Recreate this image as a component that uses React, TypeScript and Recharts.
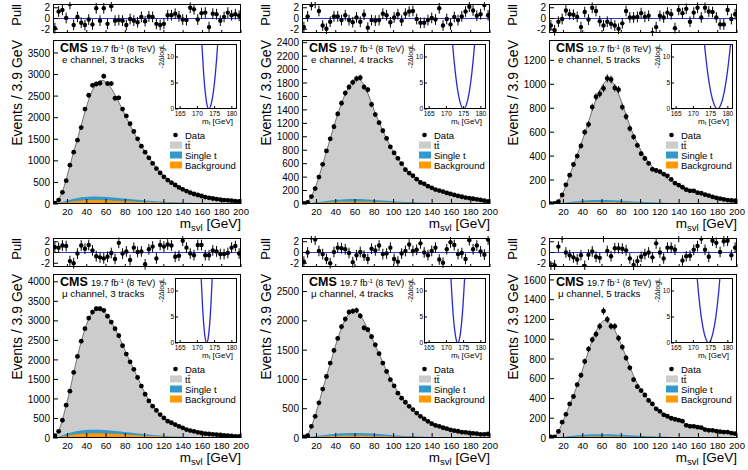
import React from 'react';
import { ComposedChart, LineChart, Line, Area, Scatter, ErrorBar, XAxis, YAxis, ReferenceLine } from 'recharts';

const FONT = '"Liberation Sans", Arial, Helvetica, sans-serif';

// 50 bins of 3.9 GeV between 5 and 200
const binCenters = [6.95, 10.85, 14.75, 18.65, 22.55, 26.45, 30.35, 34.25, 38.15, 42.05, 45.95, 49.85, 53.75, 57.65, 61.55, 65.45, 69.35, 73.25, 77.15, 81.05, 84.95, 88.85, 92.75, 96.65, 100.55, 104.45, 108.35, 112.25, 116.15, 120.05, 123.95, 127.85, 131.75, 135.65, 139.55, 143.45, 147.35, 151.25, 155.15, 159.05, 162.95, 166.85, 170.75, 174.65, 178.55, 182.45, 186.35, 190.25, 194.15, 198.05];
const xTicks = [20, 40, 60, 80, 100, 120, 140, 160, 180, 200];
const pullTicks = [-2, 0, 2];
const mtTicks = [165, 170, 175, 180];
const nllTicks = [0, 5, 10];
const nllCurve = [15.1, 12.5, 7.0, 3.1, 0.8, 0, 0.8, 3.1, 7.0, 12.5, 15.1];

// e channel, 3 tracks
const data1 = [20, 90, 270, 540, 900, 1200, 1480, 1770, 2200, 2520, 2750, 2780, 2800, 2960, 2790, 2790, 2450, 2460, 2200, 2040, 1860, 1680, 1510, 1340, 1200, 1070, 940, 820, 720, 630, 555, 495, 440, 385, 340, 300, 262, 232, 208, 185, 160, 142, 127, 113, 102, 92, 84, 76, 68, 62];
const mc1 = [25, 100, 280, 560, 890, 1210, 1510, 1820, 2140, 2420, 2640, 2790, 2860, 2860, 2800, 2680, 2530, 2360, 2180, 2000, 1830, 1660, 1500, 1350, 1210, 1080, 955, 845, 745, 655, 578, 512, 455, 405, 360, 320, 285, 255, 228, 204, 182, 163, 146, 131, 118, 106, 95, 85, 76, 68];
const st1 = [5, 20, 45, 75, 100, 122, 140, 155, 165, 170, 172, 172, 170, 166, 160, 153, 146, 138, 130, 122, 114, 106, 98, 90, 83, 76, 70, 64, 58, 53, 48, 44, 40, 36, 33, 30, 27, 25, 23, 21, 19, 17, 16, 15, 14, 13, 12, 11, 10, 10];
const bkg1 = [3, 12, 27, 42, 55, 66, 75, 82, 87, 90, 91, 91, 90, 88, 85, 82, 78, 74, 70, 66, 62, 58, 54, 50, 47, 44, 41, 38, 35, 33, 31, 29, 27, 25, 23, 21, 20, 19, 18, 17, 16, 15, 14, 13, 12, 11, 10, 9, 8, 8];
const pull1 = [-1.8, 1.3, 1.6, 0.1, 2.7, -1.2, 0.3, -0.8, -1.2, -0.2, -1.1, 1.9, -0.4, 1.9, -1.0, 2.3, -0.4, -0.3, -0.4, -1.2, -0.1, -0.4, -0.7, 0.3, -0.5, 0.4, 0.3, -1.0, -1.2, -1.0, 0.6, 0.6, 0.9, 0.4, -0.2, -0.3, 2.0, 1.7, -0.2, 1.0, 1.1, -1.6, 0.9, 0.8, -0.4, 0.3, 1.1, 0.6, 0.8, 0.5];
const yTicks1 = [0, 500, 1000, 1500, 2000, 2500, 3000, 3500];
const mt1 = [171.1, 171.3, 171.8, 172.3, 172.8, 173.3, 173.95, 174.6, 175.25, 175.9, 176.15];

// e channel, 4 tracks
const data2 = [10, 25, 110, 230, 400, 590, 790, 970, 1150, 1340, 1500, 1650, 1740, 1810, 1865, 1880, 1740, 1700, 1480, 1330, 1210, 1090, 975, 850, 760, 680, 600, 510, 460, 420, 370, 320, 300, 265, 240, 215, 200, 185, 165, 150, 135, 120, 108, 95, 88, 78, 70, 60, 50, 40];
const mc2 = [12, 30, 110, 240, 400, 590, 780, 970, 1160, 1340, 1500, 1640, 1750, 1830, 1870, 1850, 1770, 1650, 1500, 1350, 1215, 1090, 970, 860, 765, 680, 600, 530, 470, 420, 375, 335, 300, 268, 240, 215, 195, 177, 160, 146, 133, 121, 110, 100, 90, 80, 71, 62, 54, 46];
const st2 = [2, 6, 14, 22, 30, 38, 46, 53, 59, 64, 68, 71, 73, 74, 74, 73, 71, 68, 64, 60, 56, 52, 48, 44, 40, 37, 34, 31, 28, 25, 23, 21, 19, 17, 16, 15, 14, 13, 12, 11, 10, 9, 9, 8, 8, 7, 7, 6, 6, 6];
const bkg2 = [1, 4, 9, 14, 19, 23, 27, 30, 33, 35, 37, 38, 39, 39, 39, 38, 37, 36, 34, 32, 30, 28, 26, 24, 22, 21, 20, 19, 18, 17, 16, 15, 14, 13, 12, 12, 11, 11, 10, 10, 9, 9, 8, 8, 8, 7, 7, 7, 6, 6];
const pull2 = [-1.6, 0.4, 2.5, 2.9, 1.4, -1.3, -1.9, -0.6, 0.4, 0.4, -0.3, 0.6, -0.3, -0.7, 0.2, -0.6, 0.7, -1.7, -0.3, -0.4, -0.3, 0.9, 0.6, -0.7, 0.2, 0.8, -0.4, 0.9, 1.3, 1.4, -0.1, -0.8, -0.8, -0.3, 0.1, -0.2, 1.9, -1.3, -0.1, -1.1, 0.3, -0.3, 0.4, 1.3, 2.2, 1.5, 0.5, 0.8, 2.5, 0.6];
const yTicks2 = [0, 200, 400, 600, 800, 1000, 1200, 1400, 1600, 1800, 2000, 2200, 2400];
const mt2 = [171.5, 171.8, 172.6, 173.4, 174.2, 175.0, 175.8, 176.6, 177.4, 178.2, 178.5];

// e channel, 5 tracks
const data3 = [3, 5, 20, 75, 160, 240, 330, 400, 485, 600, 665, 810, 895, 920, 965, 1050, 1040, 970, 955, 810, 730, 630, 560, 490, 420, 380, 340, 290, 280, 270, 250, 235, 205, 175, 158, 140, 120, 110, 110, 95, 90, 78, 70, 60, 52, 45, 38, 33, 30, 28];
const mc3 = [3, 6, 22, 75, 155, 240, 325, 410, 500, 590, 685, 785, 875, 950, 1005, 1040, 1035, 990, 920, 835, 745, 655, 575, 505, 445, 393, 348, 312, 282, 257, 234, 212, 192, 174, 158, 144, 131, 119, 108, 98, 89, 80, 72, 64, 57, 50, 44, 38, 34, 30];
const st3 = [1, 2, 5, 9, 13, 17, 21, 24, 27, 30, 32, 33, 34, 34, 34, 33, 32, 31, 29, 27, 25, 23, 21, 19, 18, 17, 15, 14, 13, 12, 11, 10, 9, 9, 8, 8, 7, 7, 6, 6, 6, 5, 5, 5, 4, 4, 4, 4, 3, 3];
const bkg3 = [0, 1, 3, 5, 7, 9, 11, 12, 14, 15, 16, 17, 17, 17, 17, 17, 16, 16, 15, 14, 13, 12, 11, 10, 10, 9, 9, 8, 8, 7, 7, 7, 6, 6, 6, 5, 5, 5, 5, 4, 4, 4, 4, 4, 3, 3, 3, 3, 3, 3];
const pull3 = [-1.3, -2.2, -0.6, -0.1, 1.5, 0.8, 0.7, 0.3, -1.6, 1.2, -0.2, 2.0, 1.4, -0.5, -1.3, -0.6, -1.0, -1.3, -1.9, -0.9, 1.4, 0.2, 0.2, 0.3, 1.0, 0.3, 0.5, -2.7, -1.6, 0.5, 0.2, 1.1, 0.8, -1.8, 1.6, 1.0, 1.8, -0.6, 1.1, 2.0, 0.2, 2.0, 1.3, 1.2, 0.2, -1.1, -1.1, 1.6, -0.1, 0.8];
const yTicks3 = [0, 200, 400, 600, 800, 1000, 1200];
const mt3 = [172.8, 173.2, 174.15, 175.1, 176.05, 177.0, 177.95, 178.9, 179.85, 180.8, 181.2];

// mu channel, 3 tracks
const data4 = [60, 170, 455, 840, 1200, 1680, 2090, 2480, 2800, 3070, 3225, 3310, 3310, 3270, 3120, 2970, 2800, 2620, 2365, 2150, 1950, 1760, 1550, 1330, 1120, 950, 815, 705, 600, 515, 430, 390, 345, 300, 260, 215, 190, 170, 145, 130, 112, 103, 95, 86, 77, 69, 60, 52, 43, 43];
const mc4 = [50, 170, 450, 840, 1220, 1670, 2090, 2470, 2800, 3060, 3230, 3310, 3320, 3260, 3130, 2970, 2800, 2610, 2390, 2170, 1960, 1760, 1550, 1340, 1140, 965, 820, 700, 600, 512, 442, 388, 342, 300, 262, 226, 197, 172, 150, 132, 117, 105, 95, 86, 78, 70, 62, 54, 47, 42];
const st4 = [10, 35, 70, 105, 135, 160, 180, 195, 205, 210, 212, 212, 210, 205, 198, 190, 181, 171, 161, 150, 139, 128, 117, 107, 97, 88, 80, 72, 65, 58, 52, 46, 41, 37, 33, 30, 27, 25, 23, 21, 19, 17, 16, 15, 14, 13, 12, 11, 10, 10];
const bkg4 = [6, 20, 40, 60, 77, 91, 102, 111, 117, 121, 123, 123, 122, 119, 115, 111, 106, 100, 94, 88, 82, 76, 70, 64, 59, 54, 50, 46, 42, 38, 35, 32, 29, 27, 25, 23, 21, 19, 18, 17, 16, 15, 14, 13, 12, 11, 10, 9, 9, 8];
const pull4 = [1.0, 0.9, 1.3, 1.2, -1.6, -2.0, -0.2, 1.3, 0.7, 1.4, 0.4, -0.7, -0.9, -1.1, -0.8, -0.1, -1.2, 1.8, -0.2, 0.2, -1.4, 0.9, 0.1, 0.2, -2.2, 0.6, 1.1, -1.1, 1.4, 1.1, 1.5, 1.3, -0.8, -0.6, 2.2, 0.9, -0.2, -0.5, 1.4, 1.4, -0.5, -0.5, 0.4, 0.2, -0.3, -0.3, -0.1, 0.9, 1.2, -0.2];
const yTicks4 = [0, 500, 1000, 1500, 2000, 2500, 3000, 3500, 4000];
const mt4 = [170.9, 171.1, 171.5, 171.9, 172.3, 172.7, 173.1, 173.5, 173.9, 174.3, 174.5];

// mu channel, 4 tracks
const data5 = [17, 40, 200, 370, 600, 835, 1050, 1280, 1495, 1700, 1900, 2030, 2150, 2165, 2180, 2085, 1880, 1850, 1730, 1590, 1440, 1280, 1135, 995, 890, 765, 680, 610, 540, 485, 425, 370, 325, 285, 245, 215, 200, 175, 160, 140, 125, 115, 100, 97, 85, 80, 74, 62, 62, 68];
const mc5 = [15, 45, 190, 380, 600, 830, 1050, 1270, 1490, 1700, 1880, 2030, 2130, 2180, 2170, 2100, 1990, 1860, 1720, 1580, 1435, 1290, 1150, 1015, 895, 785, 692, 612, 542, 482, 428, 378, 333, 292, 256, 226, 201, 179, 160, 143, 128, 116, 105, 96, 88, 81, 75, 70, 65, 61];
const st5 = [3, 10, 20, 30, 40, 49, 57, 64, 70, 75, 79, 82, 84, 85, 85, 84, 82, 79, 75, 71, 67, 62, 57, 52, 48, 44, 40, 36, 33, 30, 27, 25, 23, 21, 19, 17, 16, 15, 14, 13, 12, 11, 10, 10, 9, 9, 8, 8, 7, 7];
const bkg5 = [2, 6, 11, 16, 21, 26, 30, 33, 36, 38, 40, 41, 42, 42, 42, 41, 40, 39, 37, 35, 33, 31, 29, 27, 25, 23, 22, 21, 20, 19, 18, 17, 16, 15, 14, 13, 12, 12, 11, 11, 10, 10, 9, 9, 9, 8, 8, 8, 7, 7];
const pull5 = [-1.7, 0.0, 2.8, 2.4, 0.3, -0.3, -1.2, -2.0, 0.1, 0.9, 0.8, 0.6, -0.1, -1.8, -0.5, 0.1, -0.6, -1.2, 0.7, 0.4, 1.3, -0.3, -0.2, 0.9, -1.2, -1.7, -0.2, 0.3, 1.5, 0.3, 0.5, 1.7, 0.0, -0.5, 0.3, 0.9, -1.3, -1.9, 0.6, 1.9, 1.4, -0.3, -0.1, -1.2, 2.3, 0.6, 1.3, 0.2, -0.4, 2.4];
const yTicks5 = [0, 500, 1000, 1500, 2000, 2500];
const mt5 = [171.1, 171.3, 171.8, 172.3, 172.8, 173.3, 173.8, 174.3, 174.8, 175.3, 175.5];

// mu channel, 5 tracks
const data6 = [10, 10, 67, 160, 240, 345, 420, 540, 635, 775, 900, 995, 1050, 1130, 1285, 1200, 1130, 1130, 1010, 920, 810, 710, 590, 520, 480, 435, 380, 345, 295, 270, 235, 220, 200, 190, 180, 170, 128, 118, 118, 110, 105, 85, 78, 78, 70, 64, 60, 60, 50, 44];
const mc6 = [8, 15, 60, 150, 240, 335, 430, 530, 640, 760, 880, 990, 1080, 1150, 1190, 1190, 1150, 1090, 1010, 920, 820, 720, 630, 552, 488, 432, 384, 342, 305, 274, 247, 224, 204, 187, 172, 158, 145, 134, 124, 115, 106, 98, 90, 83, 76, 70, 64, 58, 53, 48];
const st6 = [1, 3, 7, 11, 15, 19, 23, 27, 30, 33, 35, 37, 38, 39, 39, 38, 37, 36, 34, 32, 30, 28, 26, 24, 22, 20, 18, 17, 15, 14, 13, 12, 11, 10, 9, 9, 8, 8, 7, 7, 6, 6, 6, 5, 5, 5, 4, 4, 4, 4];
const bkg6 = [0, 1, 3, 5, 7, 9, 11, 13, 14, 15, 16, 17, 17, 18, 18, 17, 17, 16, 15, 14, 13, 12, 11, 10, 10, 9, 9, 8, 8, 7, 7, 7, 6, 6, 6, 5, 5, 5, 5, 4, 4, 4, 4, 4, 3, 3, 3, 3, 3, 3];
const pull6 = [-2.6, -2.4, 1.1, 2.8, 0.0, -0.5, -0.9, -1.3, -0.5, -2.5, -0.4, 0.2, -0.8, -1.0, 2.9, 0.3, -0.7, 0.8, 0.8, 0.7, 0.4, -1.1, -2.3, -1.6, -0.8, -0.3, 0.0, -0.9, 1.7, 0.0, -1.1, 0.9, 0.9, 0.5, 2.9, -1.5, -0.7, -0.6, 0.5, 1.2, 2.6, 0.5, -0.8, 2.2, 1.8, 0.1, 2.1, 2.2, -0.5, 0.9];
const yTicks6 = [0, 200, 400, 600, 800, 1000, 1200, 1400, 1600];
const mt6 = [170.8, 171.1, 171.9, 172.75, 173.6, 174.4, 175.2, 176.05, 176.9, 177.7, 178.0];

const panels = [
  { channel: 'e channel, 3 tracks', data: data1, mc: mc1, st: st1, bkg: bkg1, pull: pull1, yTicks: yTicks1, yMax: 3800, mt: mt1, col: 0, row: 0 },
  { channel: 'e channel, 4 tracks', data: data2, mc: mc2, st: st2, bkg: bkg2, pull: pull2, yTicks: yTicks2, yMax: 2440, mt: mt2, col: 1, row: 0 },
  { channel: 'e channel, 5 tracks', data: data3, mc: mc3, st: st3, bkg: bkg3, pull: pull3, yTicks: yTicks3, yMax: 1370, mt: mt3, col: 2, row: 0 },
  { channel: 'μ channel, 3 tracks', data: data4, mc: mc4, st: st4, bkg: bkg4, pull: pull4, yTicks: yTicks4, yMax: 4200, mt: mt4, col: 0, row: 1 },
  { channel: 'μ channel, 4 tracks', data: data5, mc: mc5, st: st5, bkg: bkg5, pull: pull5, yTicks: yTicks5, yMax: 2800, mt: mt5, col: 1, row: 1 },
  { channel: 'μ channel, 5 tracks', data: data6, mc: mc6, st: st6, bkg: bkg6, pull: pull6, yTicks: yTicks6, yMax: 1660, mt: mt6, col: 2, row: 1 },
];

const COLS = [53, 302, 549];
const ROWS = [0, 234];
const FW = 188;
const MAIN_H = 164;
const PULL_H = 29;
const YAX = 40;
const RM = 12;

const TT_COLOR = '#cccccc';
const ST_COLOR = '#3399cc';
const BKG_COLOR = '#ff9900';

const XTick = ({ x, y, payload, label, len = 5, size = 10, off = 11.5 }: any) => (
  <g>
    <line x1={x} x2={x} y1={y} y2={y - len} stroke="#000" strokeWidth={1} />
    {label && (
      <text x={x} y={y + off} textAnchor="middle" fontSize={size} fontFamily={FONT} fill="#000">
        {payload.value}
      </text>
    )}
  </g>
);

const YTick = ({ x, y, payload, len = 5, size = 10, gap = 3 }: any) => (
  <g>
    <line x1={x} x2={x + len} y1={y} y2={y} stroke="#000" strokeWidth={1} />
    <text x={x - gap} y={y} dy={size * 0.36} textAnchor="end" fontSize={size} fontFamily={FONT} fill="#000">
      {payload.value}
    </text>
  </g>
);

const dot = (r: number) => (p: any) => <circle cx={p.cx} cy={p.cy} r={r} fill="#000" />;

const frame = (left: number, top: number, width: number, height: number, key: string) => (
  <div
    key={key}
    style={{
      position: 'absolute', left, top, width, height,
      border: '1px solid #000', boxSizing: 'border-box', pointerEvents: 'none',
    }}
  />
);

function Panel({ p }: { p: any }) {
  const L = COLS[p.col];
  const T = ROWS[p.row];
  const rows = binCenters.map((x, i) => ({
    x, mc: p.mc[i], st: p.st[i], bkg: p.bkg[i], data: p.data[i], err: Math.sqrt(p.data[i]),
  }));
  const pullRows = binCenters.map((x, i) => ({ x, pull: p.pull[i], perr: 1 }));
  const nllRows = p.mt.map((m: number, i: number) => ({ m, v: nllCurve[i] }));

  return (
    <>
      {/* pull */}
      <div style={{ position: 'absolute', left: L - YAX, top: T + 3.5 - 2 }}>
        <ComposedChart width={YAX + FW + RM} height={2 + PULL_H + 1 + 2} data={pullRows}
          margin={{ top: 2, right: RM, bottom: 2, left: 0 }}>
          <XAxis dataKey="x" type="number" domain={[5, 200]} ticks={xTicks} allowDataOverflow
            height={1} tickSize={0} tickMargin={0} axisLine={false} tickLine={false} interval={0}
            tick={(t: any) => <XTick {...t} len={3} label={false} />} />
          <YAxis type="number" domain={[-2.7, 2.7]} ticks={pullTicks} allowDataOverflow width={YAX}
            tickSize={0} tickMargin={0} axisLine={false} tickLine={false} interval={0}
            tick={(t: any) => <YTick {...t} />} />
          <ReferenceLine y={0} stroke="#3636c8" strokeWidth={1} />
          <Scatter dataKey="pull" shape={dot(2.2)} isAnimationActive={false}>
            <ErrorBar dataKey="perr" direction="y" width={0} stroke="#000" strokeWidth={1} />
          </Scatter>
        </ComposedChart>
      </div>
      {frame(L, T + 3.5, FW, PULL_H, 'pf')}

      {/* main */}
      <div style={{ position: 'absolute', left: L - YAX, top: T + 40 - 6 }}>
        <ComposedChart width={YAX + FW + RM} height={6 + MAIN_H + 20} data={rows}
          margin={{ top: 6, right: RM, bottom: 0, left: 0 }}>
          <XAxis dataKey="x" type="number" domain={[5, 200]} ticks={xTicks} allowDataOverflow
            height={20} tickSize={0} tickMargin={0} axisLine={false} tickLine={false} interval={0}
            tick={(t: any) => <XTick {...t} label size={9.5} off={10.5} />} />
          <YAxis type="number" domain={[0, p.yMax]} ticks={p.yTicks} allowDataOverflow width={YAX}
            tickSize={0} tickMargin={0} axisLine={false} tickLine={false} interval={0}
            tick={(t: any) => <YTick {...t} />} />
          <Area dataKey="mc" type="linear" fill={TT_COLOR} fillOpacity={1} stroke="#555" strokeWidth={0.8} isAnimationActive={false} />
          <Area dataKey="st" type="linear" fill={ST_COLOR} fillOpacity={1} stroke="none" isAnimationActive={false} />
          <Area dataKey="bkg" type="linear" fill={BKG_COLOR} fillOpacity={1} stroke="none" isAnimationActive={false} />
          <Scatter dataKey="data" shape={dot(2.4)} isAnimationActive={false}>
            <ErrorBar dataKey="err" direction="y" width={0} stroke="#000" strokeWidth={1} />
          </Scatter>
        </ComposedChart>
      </div>
      {frame(L, T + 40, FW, MAIN_H, 'mf')}

      {/* inset likelihood scan */}
      <div style={{ position: 'absolute', left: L + 122 - 14, top: T + 43.5 - 2 }}>
        <LineChart width={14 + 62 + 8} height={2 + 65 + 14} data={nllRows}
          margin={{ top: 2, right: 8, bottom: 0, left: 0 }}>
          <XAxis dataKey="m" type="number" domain={[163.5, 181.5]} ticks={mtTicks} allowDataOverflow
            height={14} tickSize={0} tickMargin={0} axisLine={false} tickLine={false} interval={0}
            tick={(t: any) => <XTick {...t} label len={3} size={6.5} off={7} />} />
          <YAxis type="number" domain={[0, 12.5]} ticks={nllTicks} allowDataOverflow width={14}
            tickSize={0} tickMargin={0} axisLine={false} tickLine={false} interval={0}
            tick={(t: any) => <YTick {...t} len={3} size={6.5} gap={1} />} />
          <Line dataKey="v" type="monotone" stroke="#2a2ad2" strokeWidth={1.3} dot={false} isAnimationActive={false} />
        </LineChart>
      </div>
      {frame(L + 122, T + 43.5, 62, 65, 'if')}
    </>
  );
}

function PanelText({ p }: { p: any }) {
  const L = COLS[p.col];
  const T = ROWS[p.row];
  return (
    <g fontFamily={FONT} fill="#000">
      <text transform={`translate(${L - 32},${T + 4}) rotate(-90)`} textAnchor="end" fontSize={13}>Pull</text>
      <text transform={`translate(${L - 31},${T + 40}) rotate(-90)`} textAnchor="end" fontSize={14}>Events / 3.9 GeV</text>
      <text x={L + FW} y={T + 228} textAnchor="end" fontSize={13.5}>
        m<tspan fontSize={9.5} dy={2.5}>svl</tspan><tspan dy={-2.5}> [GeV]</tspan>
      </text>

      <text x={L + 7} y={T + 52} fontSize={12.5} fontWeight="bold">CMS</text>
      <text x={L + 38} y={T + 52} fontSize={9}>
        19.7 fb<tspan fontSize={6} dy={-3.5}>-1</tspan><tspan dy={3.5}> (8 TeV)</tspan>
      </text>
      <text x={L + 9} y={T + 62.5} fontSize={9.8}>{p.channel}</text>

      <text transform={`translate(${L + 110.5},${T + 44}) rotate(-90)`} textAnchor="end" fontSize={7}>-2ΔlogL</text>
      <text x={L + 180} y={T + 123.5} textAnchor="end" fontSize={8}>
        m<tspan fontSize={5.5} dy={1.5}>t</tspan><tspan dy={-1.5}> [GeV]</tspan>
      </text>

      <circle cx={L + 122.5} cy={T + 135} r={2.3} fill="#000" />
      <text x={L + 132} y={T + 138.5} fontSize={9.5}>Data</text>
      <rect x={L + 117} y={T + 141.5} width={12} height={7} fill={TT_COLOR} />
      <text x={L + 132} y={T + 149} fontSize={9.5}>tt</text>
      <line x1={L + 134.8} x2={L + 137.4} y1={T + 141.4} y2={T + 141.4} stroke="#000" strokeWidth={0.6} />
      <rect x={L + 117} y={T + 151.5} width={12} height={7} fill={ST_COLOR} />
      <text x={L + 132} y={T + 158.5} fontSize={9.5}>Single t</text>
      <rect x={L + 117} y={T + 161.5} width={12} height={7} fill={BKG_COLOR} />
      <text x={L + 132} y={T + 168.5} fontSize={9.5}>Background</text>
    </g>
  );
}

export default function App() {
  return (
    <div style={{ position: 'absolute', left: 0, top: 0, width: 748, height: 470, background: '#fff', overflow: 'hidden' }}>
      {panels.map((p, i) => <Panel key={i} p={p} />)}
      <svg width={748} height={470} style={{ position: 'absolute', left: 0, top: 0, pointerEvents: 'none' }}>
        {panels.map((p, i) => <PanelText key={i} p={p} />)}
      </svg>
    </div>
  );
}
